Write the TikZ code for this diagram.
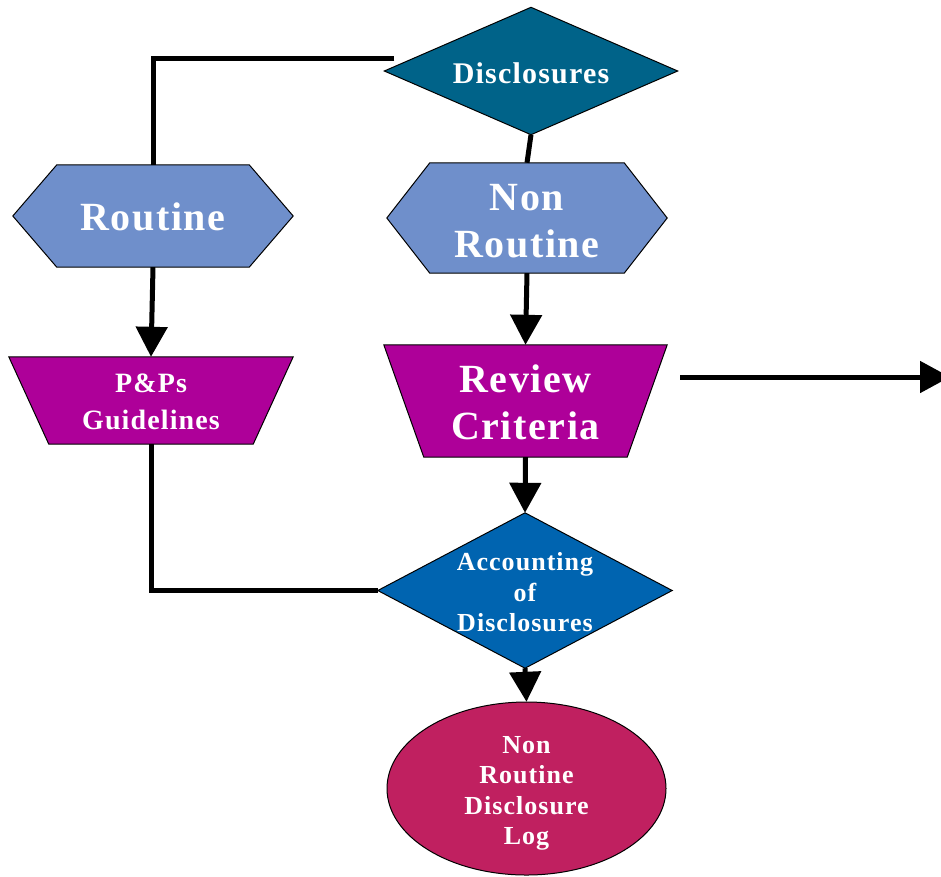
\documentclass[tikz,border=0pt]{standalone}
\usepackage{fontspec}
\setmainfont{Liberation Serif}
\newfontfamily\lsf{Liberation Serif}[LetterSpace=4.0]
\usetikzlibrary{arrows.meta}
\pgfdeclarelayer{background}
\pgfsetlayers{background,main}
\definecolor{disccol}{HTML}{006389}
\definecolor{hexcol}{HTML}{6F8FCB}
\definecolor{trapcol}{HTML}{AE0099}
\definecolor{acccol}{HTML}{0064B0}
\definecolor{logcol}{HTML}{C02060}
\newcommand\mkhex[3]{\begin{pgfonlayer}{background}\path[shp,fill=#2] (#1.west) -- ([xshift=#3]#1.north west) -- ([xshift=-#3]#1.north east) -- (#1.east) -- ([xshift=-#3]#1.south east) -- ([xshift=#3]#1.south west) -- cycle;\end{pgfonlayer}}
\newcommand\mktrap[3]{\begin{pgfonlayer}{background}\path[shp,fill=#2] (#1.north west) -- (#1.north east) -- ([xshift=-#3]#1.south east) -- ([xshift=#3]#1.south west) -- cycle;\end{pgfonlayer}}
\newcommand\mkdiam[2]{\begin{pgfonlayer}{background}\path[shp,fill=#2] (#1.west) -- (#1.north) -- (#1.east) -- (#1.south) -- cycle;\end{pgfonlayer}}
\tikzset{
  box/.style={rectangle, inner sep=0pt},
  txt/.style={inner sep=0pt, align=center, text=white},
  big/.style={font=\lsf\bfseries\fontsize{40}{47}\selectfont},
  mid/.style={font=\lsf\bfseries\fontsize{30}{34}\selectfont},
  pp/.style={font=\lsf\bfseries\fontsize{28}{37}\selectfont},
  sml/.style={font=\lsf\bfseries\fontsize{26}{30.5}\selectfont},
  shp/.style={draw=black, line width=1pt},
  ln/.style={line width=5pt, draw=black},
  arr/.style={ln, -{Triangle[length=30pt,width=31pt]}},
}
\begin{document}
\begin{tikzpicture}[x=1pt,y=-1pt]
\useasboundingbox (0,0) rectangle (941,876);
\node[box,minimum width=293pt,minimum height=127pt] (disc) at (531,71) {};
\node[box,minimum width=280pt,minimum height=102pt] (routine) at (153,216) {};
\node[box,minimum width=280pt,minimum height=110pt] (nonroutine) at (527,218) {};
\node[box,minimum width=284pt,minimum height=87pt] (pps) at (151,400.5) {};
\node[box,minimum width=283pt,minimum height=112pt] (review) at (525.5,401) {};
\node[box,minimum width=294pt,minimum height=155pt] (acc) at (525,590.5) {};
\node[box,minimum width=279pt,minimum height=173pt] (log) at (526.5,788.5) {};

\node[txt,mid] (disctxt) at ([yshift=-2pt]disc.center) {Disclosures};
\node[txt,big] (routinetxt) at ([yshift=-1pt]routine.center) {Routine};
\node[txt,big] (nonroutinetxt) at ([yshift=-3pt]nonroutine.center) {Non\\Routine};
\node[txt,pp] (ppstxt) at ([yshift=-1pt]pps.center) {P\&Ps\\Guidelines};
\node[txt,big] (reviewtxt) at ([yshift=-1pt]review.center) {Review\\Criteria};
\node[txt,sml] (acctxt) at ([yshift=-2pt]acc.center) {Accounting\\of\\Disclosures};
\node[txt,sml] (logtxt) at ([yshift=-5pt]log.center) {Non\\Routine\\Disclosure\\Log};

\coordinate (outstart) at (680,377);
\coordinate (outend) at (950,377);

\mkdiam{disc}{disccol}
\mkhex{routine}{hexcol}{44pt}
\mkhex{nonroutine}{hexcol}{43pt}
\mktrap{pps}{trapcol}{40pt}
\mktrap{review}{trapcol}{40pt}
\mkdiam{acc}{acccol}
\begin{pgfonlayer}{background}
\path[shp,fill=logcol] (log.center) ellipse [x radius=139.5, y radius=86.5];
\end{pgfonlayer}

\draw[ln] ([xshift=10pt,yshift=13pt]disc.west) -| (routine.north);
\draw[ln] (disc.south) -- (nonroutine.north);
\draw[arr] (routine.south) -- (pps.north);
\draw[arr] (nonroutine.south) -- (review.north);
\draw[arr] (review.south) -- (acc.north);
\draw[arr] (acc.south) -- (log.north);
\draw[ln] (pps.south) |- (acc.west);
\draw[arr] (outstart) -- (outend);
\end{tikzpicture}
\end{document}
